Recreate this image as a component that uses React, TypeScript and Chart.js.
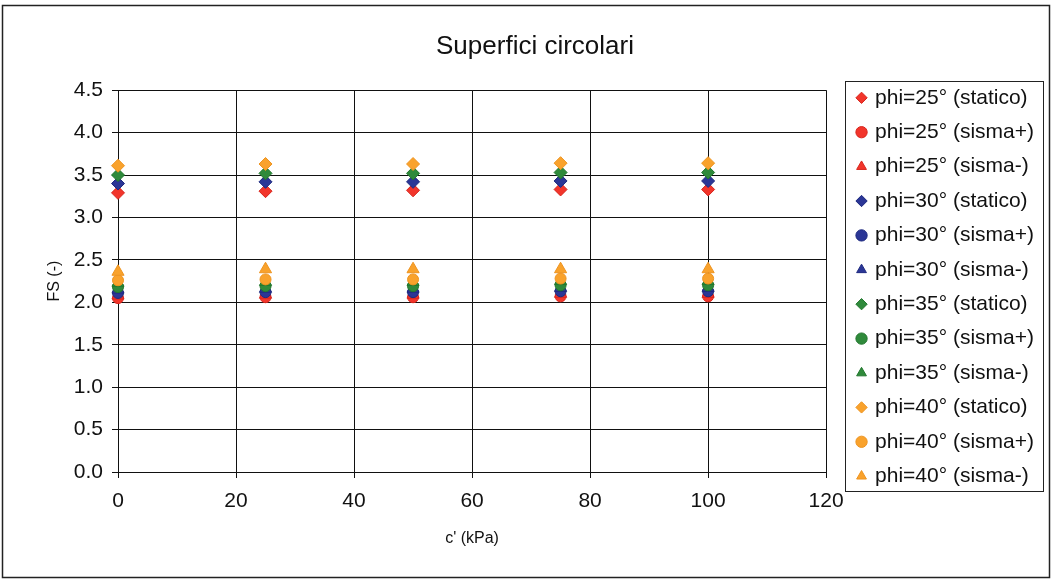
import React, { useEffect, useRef } from "react";
import { Chart, registerables } from "chart.js";

Chart.register(...registerables);

const cValues = [0, 25, 50, 75, 100];

const phi25Statico = [3.29, 3.31, 3.32, 3.33, 3.33];
const phi25SismaPlus = [2.05, 2.06, 2.06, 2.07, 2.07];
const phi25SismaMinus = [2.08, 2.09, 2.09, 2.1, 2.1];
const phi30Statico = [3.4, 3.42, 3.42, 3.43, 3.43];
const phi30SismaPlus = [2.11, 2.12, 2.12, 2.13, 2.13];
const phi30SismaMinus = [2.15, 2.16, 2.16, 2.17, 2.17];
const phi35Statico = [3.5, 3.52, 3.52, 3.53, 3.53];
const phi35SismaPlus = [2.18, 2.19, 2.19, 2.2, 2.2];
const phi35SismaMinus = [2.23, 2.24, 2.24, 2.25, 2.25];
const phi40Statico = [3.61, 3.63, 3.63, 3.64, 3.64];
const phi40SismaPlus = [2.26, 2.27, 2.27, 2.28, 2.28];
const phi40SismaMinus = [2.36, 2.39, 2.39, 2.39, 2.39];

const seriesLabels = [
  "phi=25° (statico)",
  "phi=25° (sisma+)",
  "phi=25° (sisma-)",
  "phi=30° (statico)",
  "phi=30° (sisma+)",
  "phi=30° (sisma-)",
  "phi=35° (statico)",
  "phi=35° (sisma+)",
  "phi=35° (sisma-)",
  "phi=40° (statico)",
  "phi=40° (sisma+)",
  "phi=40° (sisma-)",
];

const seriesValues = [
  phi25Statico, phi25SismaPlus, phi25SismaMinus,
  phi30Statico, phi30SismaPlus, phi30SismaMinus,
  phi35Statico, phi35SismaPlus, phi35SismaMinus,
  phi40Statico, phi40SismaPlus, phi40SismaMinus,
];

const groupColors = ["#f2352b", "#2b3696", "#2f8a3b", "#f9a22c"];
const groupBorders = ["#d8251c", "#1e2a80", "#22772e", "#ee9420"];
const styles = ["rectRot", "circle", "triangle"];
const radii = [6.5, 5.5, 7];

const FONT = "'Liberation Sans', Arial, sans-serif";

const framePlugin = {
  id: "frame",
  beforeDraw(chart: any) {
    const ctx = chart.ctx;
    ctx.save();
    ctx.fillStyle = "#ffffff";
    ctx.fillRect(0, 0, chart.width, chart.height);
    ctx.strokeStyle = "#222";
    ctx.lineWidth = 1.5;
    ctx.strokeRect(2.5, 5.5, 1047, 572);
    ctx.restore();
  },
  afterDraw(chart: any) {
    const lg = chart.legend;
    if (!lg || !lg.legendHitBoxes || !lg.legendHitBoxes.length) return;
    const hb = lg.legendHitBoxes;
    const first = hb[0];
    const last = hb[hb.length - 1];
    const ctx = chart.ctx;
    ctx.save();
    ctx.strokeStyle = "#222";
    ctx.lineWidth = 1;
    const left = Math.round(lg.left) + 0.5;
    const right = Math.round(lg.right) - 0.5;
    const top = Math.round(first.top - 6) + 0.5;
    const bottom = Math.round(last.top + last.height + 4) + 0.5;
    ctx.strokeRect(left, top, right - left, bottom - top);
    ctx.restore();
  },
};

export default function App() {
  const canvasRef = useRef<HTMLCanvasElement | null>(null);

  useEffect(() => {
    if (!canvasRef.current) return;
    const datasets = seriesValues.map((vals, i) => {
      const g = Math.floor(i / 3);
      const s = i % 3;
      return {
        label: seriesLabels[i],
        data: cValues.map((x, k) => ({ x, y: vals[k] })),
        showLine: false,
        clip: false,
        pointStyle: styles[s],
        pointRadius: radii[s],
        pointHoverRadius: radii[s],
        backgroundColor: groupColors[g],
        borderColor: groupBorders[g],
        pointBorderWidth: 1,
        borderWidth: 1,
        order: 11 - i,
      };
    });

    const chart = new Chart(canvasRef.current, {
      type: "scatter",
      data: { datasets },
      plugins: [framePlugin],
      options: {
        animation: false,
        responsive: false,
        devicePixelRatio: 1,
        layout: { padding: { left: 26, right: 12, top: 10, bottom: 16 } },
        plugins: {
          tooltip: { enabled: false },
          title: {
            display: true,
            text: "Superfici circolari",
            color: "#111",
            font: { family: FONT, size: 26, weight: "normal" },
            padding: { top: 21, bottom: 28 },
          },
          legend: {
            display: true,
            position: "right",
            align: "center",
            maxWidth: 260,
            labels: {
              usePointStyle: true,
              boxWidth: 6,
              boxHeight: 8,
              padding: 13.4,
              color: "#111",
              font: { family: FONT, size: 21 },
              sort: (a: any, b: any) => a.datasetIndex - b.datasetIndex,
            },
          },
        },
        scales: {
          x: {
            type: "linear",
            min: 0,
            max: 120,
            ticks: {
              stepSize: 20,
              color: "#111",
              font: { family: FONT, size: 21 },
              padding: 11,
            },
            grid: { color: "#111", lineWidth: 1, tickLength: 6, tickColor: "#111" },
            border: { color: "#111", width: 1 },
            title: {
              display: true,
              text: "c' (kPa)",
              color: "#111",
              font: { family: FONT, size: 16 },
              padding: { top: 4, bottom: 15.5 },
            },
            afterFit: (s: any) => {
              s.height = 92;
            },
          },
          y: {
            type: "linear",
            position: "left",
            min: 0,
            max: 4.5,
            ticks: {
              stepSize: 0.5,
              color: "#111",
              font: { family: FONT, size: 21 },
              padding: 9,
              callback: (v: any) => Number(v).toFixed(1),
            },
            grid: { color: "#111", lineWidth: 1, tickLength: 6, tickColor: "#111" },
            border: { color: "#111", width: 1 },
            title: {
              display: true,
              text: "FS (-)",
              color: "#111",
              font: { family: FONT, size: 16 },
              padding: { top: 19.4, bottom: 4 },
            },
            afterFit: (s: any) => {
              s.width = 92;
            },
          },
          gap: {
            type: "linear",
            position: "right",
            min: 0,
            max: 4.5,
            display: true,
            ticks: { display: false },
            grid: { display: false },
            border: { display: false },
            afterFit: (s: any) => {
              s.width = 19;
            },
          },
        },
      } as any,
    });
    return () => chart.destroy();
  }, []);

  return (
    <div style={{ position: "absolute", left: 0, top: 0, width: 1056, height: 580 }}>
      <canvas ref={canvasRef} width={1056} height={580} style={{ width: 1056, height: 580 }} />
    </div>
  );
}
